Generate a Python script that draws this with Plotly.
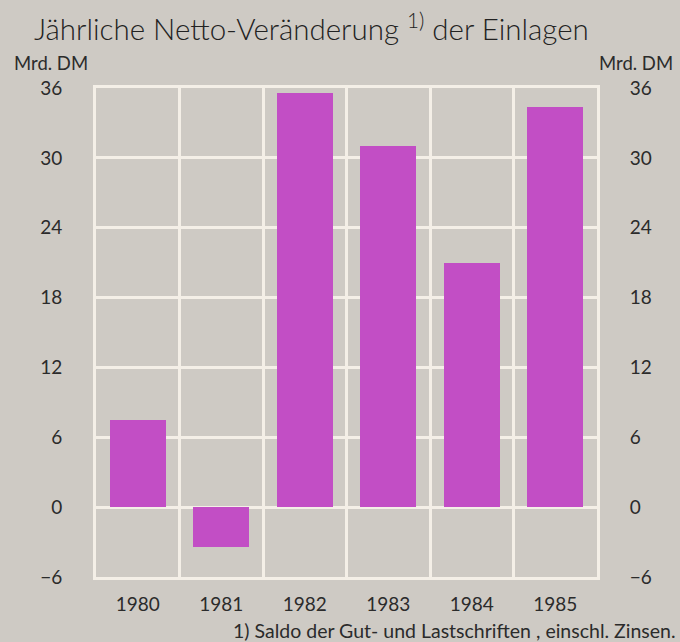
import plotly.graph_objects as go

years = ["1980", "1981", "1982", "1983", "1984", "1985"]
values = [7.5, -3.4, 35.6, 31.0, 21.0, 34.4]
y_ticks = [-6, 0, 6, 12, 18, 24, 30, 36]

BG = "#cecac4"
GRID = "#f4efe7"
BAR = "#c24ec5"
TXT = "#2b2b2b"
FONT = "Lato"

x_pos = list(range(len(years)))

fig = go.Figure()
fig.add_trace(go.Bar(x=x_pos, y=values, width=0.67, marker=dict(color=BAR, line=dict(width=0)),
                     showlegend=False))
# invisible trace to activate right axis
fig.add_trace(go.Scatter(x=[x_pos[0]], y=[values[0]], yaxis="y2", mode="markers",
                         marker=dict(opacity=0), showlegend=False, hoverinfo="skip"))

fig.update_layout(
    width=680, height=642,
    paper_bgcolor=BG, plot_bgcolor=BG,
    margin=dict(l=96, r=83, t=88, b=65),
    font=dict(family=FONT, color=TXT, size=18),
    xaxis=dict(range=[-0.5, 5.5], tickmode="array", tickvals=x_pos, ticktext=years,
               showgrid=False, zeroline=False, showline=True, mirror=True,
               linecolor=GRID, linewidth=3,
               ticks="outside", ticklen=8, tickcolor="rgba(0,0,0,0)",
               minor=dict(tick0=0.5, dtick=1, showgrid=True, gridcolor=GRID, gridwidth=3),
               tickfont=dict(size=19)),
    yaxis=dict(range=[-6, 36], tickmode="array", tickvals=y_ticks,
               showgrid=True, gridcolor=GRID, gridwidth=3, zeroline=False,
               showline=True, mirror=True, linecolor=GRID, linewidth=3,
               ticks="outside", ticklen=27, tickcolor="rgba(0,0,0,0)",
               tickfont=dict(size=19)),
    yaxis2=dict(range=[-6, 36], tickmode="array", tickvals=y_ticks, overlaying="y", side="right",
                showgrid=False, zeroline=False,
                ticks="outside", ticklen=28, tickcolor="rgba(0,0,0,0)",
                tickfont=dict(size=19)),
    bargap=0,
)

fig.add_annotation(text="Jährliche Netto-Veränderung <sup>1)</sup> der Einlagen",
                   xref="paper", yref="paper", x=-0.128, y=1.0, yshift=82,
                   xanchor="left", yanchor="top", showarrow=False,
                   font=dict(size=29.5, family=FONT, weight=300, color="#222222"))
fig.add_annotation(text="Mrd. DM", xref="paper", yref="paper", x=-0.168, y=1.0, yshift=38,
                   xanchor="left", yanchor="top", showarrow=False, font=dict(size=18.5))
fig.add_annotation(text="Mrd. DM", xref="paper", yref="paper", x=1.0, y=1.0, yshift=38,
                   xanchor="left", yanchor="top", showarrow=False, font=dict(size=18.5))
fig.add_annotation(text="1) Saldo der Gut- und Lastschriften , einschl. Zinsen.",
                   xref="paper", yref="paper", x=1.162, y=0, yshift=-40,
                   xanchor="right", yanchor="top", showarrow=False, font=dict(size=19.5))

fig.write_html("out.html", config={"displayModeBar": False},
               post_script="document.body.style.margin='0';")
